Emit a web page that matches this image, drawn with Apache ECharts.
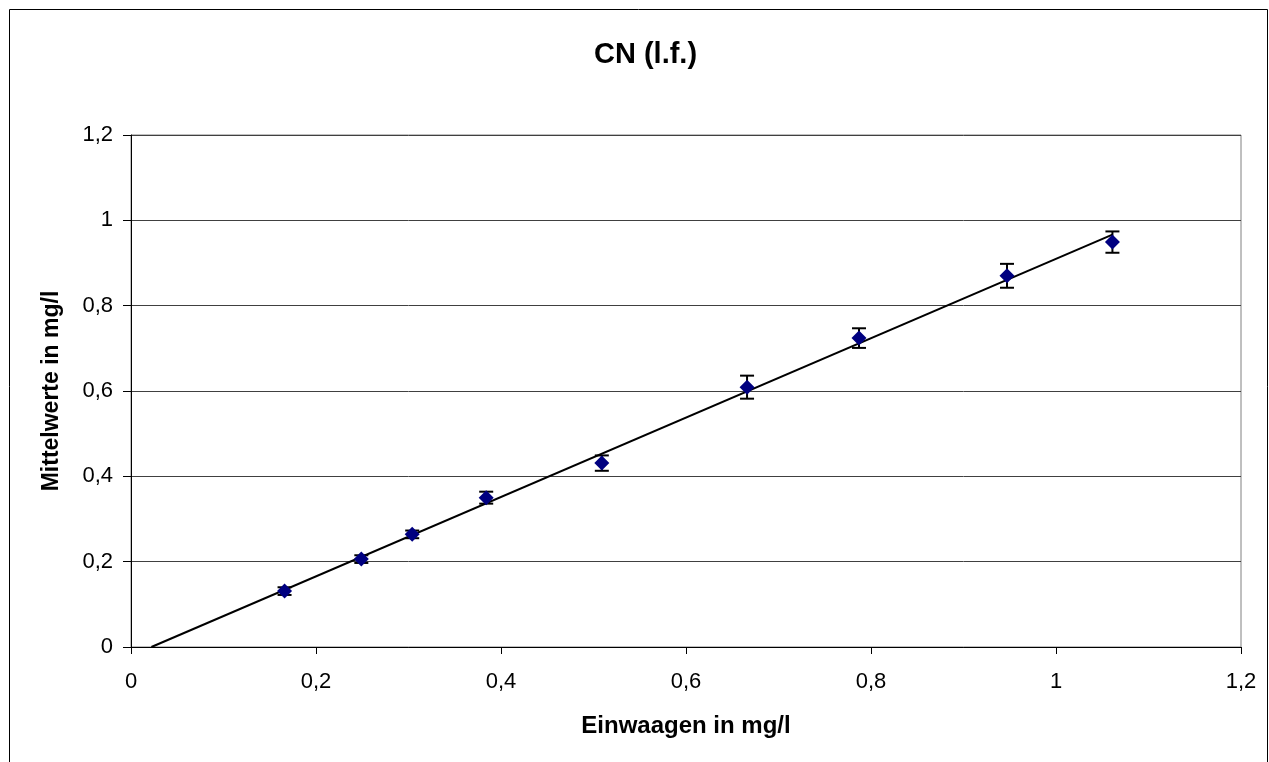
<!DOCTYPE html>
<html>
<head>
<meta charset="utf-8">
<script src="https://cdn.jsdelivr.net/npm/echarts@6/dist/echarts.min.js"></script>
<style>
  html, body { margin: 0; padding: 0; background: #fff; }
  #chart { width: 1269px; height: 762px; }
</style>
</head>
<body>
<div id="chart"></div>
<script>
// Einwaagen (x) und Mittelwerte (y) mit Standardabweichung
const xVals = [0.166, 0.249, 0.304, 0.384, 0.509, 0.666, 0.787, 0.947, 1.061];
const yVals = [0.131, 0.206, 0.264, 0.350, 0.431, 0.609, 0.724, 0.870, 0.949];
const errVals = [0.009, 0.009, 0.009, 0.014, 0.018, 0.027, 0.023, 0.028, 0.025];
const xTicks = [0, 0.2, 0.4, 0.6, 0.8, 1, 1.2];

// lineare Trendlinie (kleinste Quadrate)
const n = xVals.length;
const mx = xVals.reduce((a, b) => a + b, 0) / n;
const my = yVals.reduce((a, b) => a + b, 0) / n;
let sxy = 0, sxx = 0;
for (let i = 0; i < n; i++) {
  sxy += (xVals[i] - mx) * (yVals[i] - my);
  sxx += (xVals[i] - mx) * (xVals[i] - mx);
}
const slope = sxy / sxx;
const icpt = my - slope * mx;
const xStart = -icpt / slope;
const xEnd = Math.max(...xVals);
const trend = [[xStart, 0], [xEnd, slope * xEnd + icpt]];

const fmt = v => String(+v.toFixed(1)).replace('.', ',');

const points = xVals.map((x, i) => [x, yVals[i]]);
const errData = xVals.map((x, i) => [x, yVals[i] - errVals[i], yVals[i] + errVals[i]]);

let myChart = echarts.init(document.getElementById('chart'));
const option = {
  animation: false,
  textStyle: { fontFamily: 'Liberation Sans, Arial, sans-serif' },
  graphic: [
    {
      type: 'rect',
      shape: { x: 9.5, y: 9.5, width: 1258, height: 800 },
      style: { fill: 'none', stroke: '#000', lineWidth: 1 },
      silent: true
    }
  ],
  title: {
    text: 'CN (l.f.)',
    left: 589,
    top: 35,
    textStyle: { fontSize: 29, fontWeight: 'bold', color: '#000', fontFamily: 'Liberation Sans, Arial, sans-serif' }
  },
  grid: {
    left: 131,
    right: 28,
    top: 135,
    bottom: 115,
    show: true,
    borderColor: '#808080',
    borderWidth: 1
  },
  xAxis: {
    type: 'value',
    min: 0,
    max: 1.2,
    interval: 0.2,
    name: 'Einwaagen in mg/l',
    nameLocation: 'middle',
    nameGap: 67,
    nameTextStyle: { fontSize: 24, fontWeight: 'bold', color: '#000' },
    axisLine: { show: true, onZero: false, lineStyle: { color: '#000', width: 1 } },
    axisTick: { show: true, length: 7, lineStyle: { color: '#000' } },
    axisLabel: { fontSize: 22, color: '#000', margin: 24, formatter: fmt },
    splitLine: { show: false }
  },
  yAxis: {
    type: 'value',
    min: 0,
    max: 1.2,
    interval: 0.2,
    name: 'Mittelwerte in mg/l',
    nameLocation: 'middle',
    nameGap: 68,
    nameTextStyle: { fontSize: 23, fontWeight: 'bold', color: '#000' },
    axisLine: { show: true, lineStyle: { color: '#000', width: 1 } },
    axisTick: { show: true, length: 8, lineStyle: { color: '#000' } },
    axisLabel: { fontSize: 22, color: '#000', margin: 18, formatter: fmt },
    splitLine: { show: true, lineStyle: { color: '#404040', width: 1 } }
  },
  series: [
    {
      name: 'Trend',
      type: 'line',
      data: trend,
      symbol: 'none',
      lineStyle: { color: '#000', width: 2 },
      z: 2
    },
    {
      name: 'Fehler',
      type: 'custom',
      data: errData,
      z: 3,
      renderItem: function (params, api) {
        const x = api.value(0);
        const lo = api.coord([x, api.value(1)]);
        const hi = api.coord([x, api.value(2)]);
        const cap = 7;
        const st = { stroke: '#000', lineWidth: 2 };
        return {
          type: 'group',
          children: [
            { type: 'line', shape: { x1: lo[0], y1: lo[1], x2: hi[0], y2: hi[1] }, style: st },
            { type: 'line', shape: { x1: hi[0] - cap, y1: hi[1], x2: hi[0] + cap, y2: hi[1] }, style: st },
            { type: 'line', shape: { x1: lo[0] - cap, y1: lo[1], x2: lo[0] + cap, y2: lo[1] }, style: st }
          ]
        };
      }
    },
    {
      name: 'Mittelwerte',
      type: 'scatter',
      data: points,
      symbol: 'diamond',
      symbolSize: 15,
      itemStyle: { color: '#000080', opacity: 1 },
      z: 4
    }
  ]
};
myChart.setOption(option);
</script>
</body>
</html>
